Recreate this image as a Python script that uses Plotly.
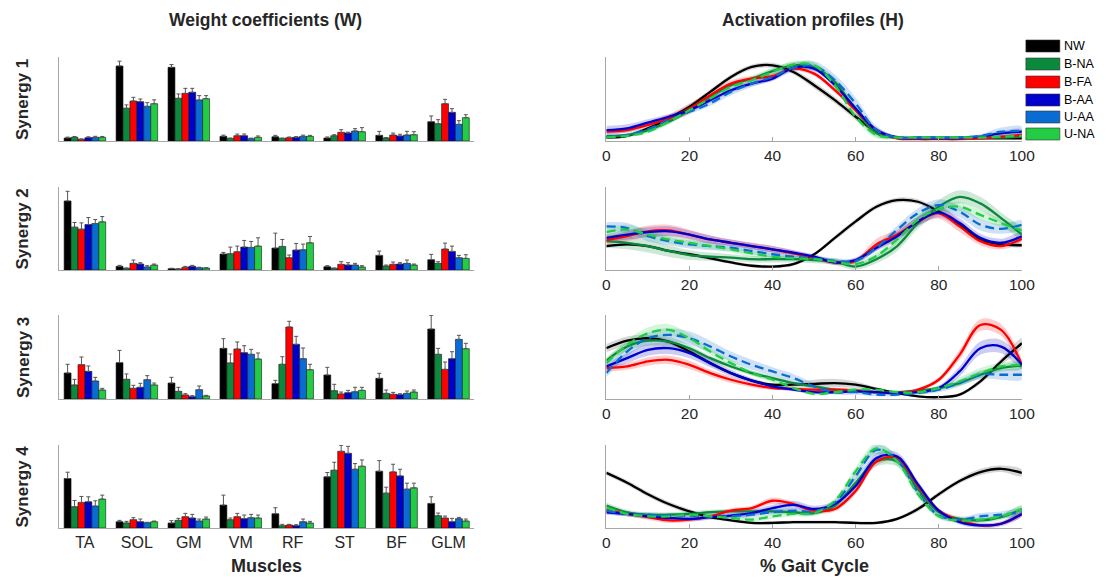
import plotly.graph_objects as go

muscles = ["TA", "SOL", "GM", "VM", "RF", "ST", "BF", "GLM"]
groups = ["NW", "B-NA", "B-FA", "B-AA", "U-AA", "U-NA"]
colors = ["#000000", "#0b8a3e", "#ff0000", "#0000cc", "#0a6bd2", "#22cc44"]
dashes = ["solid", "solid", "solid", "solid", "9px,5px", "9px,5px"]
gait = [0, 5, 10, 15, 20, 25, 30, 35, 40, 45, 50, 55, 60, 65, 70, 75, 80, 85, 90, 95, 100]
xticks = [0, 20, 40, 60, 80, 100]

# ---- weight coefficients (rows = groups, columns = muscles) ----
W1 = [[0.036, 0.893, 0.877, 0.056, 0.050, 0.036, 0.067, 0.230],
      [0.044, 0.390, 0.508, 0.030, 0.030, 0.063, 0.036, 0.206],
      [0.020, 0.476, 0.567, 0.063, 0.040, 0.103, 0.071, 0.444],
      [0.040, 0.468, 0.580, 0.063, 0.044, 0.095, 0.060, 0.341],
      [0.044, 0.413, 0.488, 0.028, 0.056, 0.119, 0.071, 0.198],
      [0.044, 0.444, 0.504, 0.044, 0.056, 0.111, 0.075, 0.278]]
E1 = [[0.010, 0.057, 0.033, 0.014, 0.017, 0.012, 0.048, 0.068],
      [0.010, 0.040, 0.052, 0.006, 0.006, 0.012, 0.006, 0.048],
      [0.005, 0.044, 0.060, 0.020, 0.008, 0.032, 0.024, 0.052],
      [0.010, 0.032, 0.047, 0.020, 0.008, 0.010, 0.020, 0.044],
      [0.012, 0.043, 0.052, 0.006, 0.014, 0.028, 0.044, 0.044],
      [0.010, 0.046, 0.036, 0.016, 0.011, 0.048, 0.036, 0.035]]
W2 = [[0.832, 0.044, 0.016, 0.192, 0.264, 0.040, 0.176, 0.124],
      [0.516, 0.020, 0.012, 0.196, 0.284, 0.020, 0.048, 0.080],
      [0.492, 0.080, 0.032, 0.220, 0.148, 0.068, 0.068, 0.252],
      [0.548, 0.072, 0.044, 0.276, 0.240, 0.060, 0.072, 0.224],
      [0.560, 0.036, 0.028, 0.272, 0.244, 0.060, 0.080, 0.148],
      [0.580, 0.060, 0.024, 0.288, 0.328, 0.036, 0.060, 0.140]]
E2 = [[0.116, 0.012, 0.005, 0.020, 0.180, 0.012, 0.052, 0.064],
      [0.056, 0.005, 0.003, 0.080, 0.084, 0.004, 0.012, 0.020],
      [0.076, 0.040, 0.012, 0.068, 0.032, 0.032, 0.028, 0.072],
      [0.084, 0.016, 0.012, 0.080, 0.080, 0.028, 0.016, 0.064],
      [0.048, 0.016, 0.005, 0.072, 0.068, 0.020, 0.040, 0.028],
      [0.064, 0.012, 0.004, 0.100, 0.076, 0.016, 0.012, 0.044]]
W3 = [[0.310, 0.433, 0.190, 0.603, 0.183, 0.286, 0.246, 0.833],
      [0.167, 0.234, 0.091, 0.429, 0.413, 0.099, 0.067, 0.532],
      [0.409, 0.127, 0.048, 0.595, 0.857, 0.060, 0.056, 0.353],
      [0.329, 0.139, 0.028, 0.552, 0.651, 0.075, 0.052, 0.480],
      [0.214, 0.230, 0.111, 0.532, 0.480, 0.087, 0.067, 0.710],
      [0.107, 0.167, 0.036, 0.476, 0.349, 0.103, 0.083, 0.599]]
E3 = [[0.103, 0.146, 0.068, 0.115, 0.039, 0.091, 0.060, 0.163],
      [0.067, 0.064, 0.048, 0.107, 0.091, 0.076, 0.040, 0.071],
      [0.091, 0.036, 0.015, 0.084, 0.068, 0.023, 0.023, 0.087],
      [0.064, 0.048, 0.012, 0.083, 0.095, 0.028, 0.011, 0.083],
      [0.044, 0.048, 0.044, 0.059, 0.127, 0.052, 0.028, 0.048],
      [0.020, 0.023, 0.008, 0.072, 0.064, 0.036, 0.024, 0.064]]
W4 = [[0.596, 0.076, 0.060, 0.276, 0.172, 0.616, 0.684, 0.296],
      [0.256, 0.060, 0.092, 0.100, 0.028, 0.696, 0.420, 0.148],
      [0.308, 0.100, 0.136, 0.136, 0.036, 0.924, 0.676, 0.120],
      [0.316, 0.076, 0.120, 0.112, 0.028, 0.900, 0.628, 0.076],
      [0.264, 0.064, 0.084, 0.124, 0.076, 0.708, 0.468, 0.112],
      [0.348, 0.076, 0.108, 0.120, 0.060, 0.744, 0.484, 0.084]]
E4 = [[0.076, 0.016, 0.028, 0.120, 0.072, 0.052, 0.128, 0.080],
      [0.076, 0.020, 0.024, 0.020, 0.016, 0.096, 0.072, 0.032],
      [0.072, 0.024, 0.040, 0.040, 0.008, 0.072, 0.092, 0.024],
      [0.060, 0.032, 0.044, 0.044, 0.012, 0.084, 0.080, 0.040],
      [0.064, 0.005, 0.024, 0.040, 0.032, 0.068, 0.072, 0.016],
      [0.048, 0.008, 0.024, 0.036, 0.020, 0.076, 0.056, 0.024]]

# ---- activation profiles (rows = groups, columns = gait %) ----
H1 = [[0.03, 0.05, 0.14, 0.26, 0.40, 0.58, 0.76, 0.88, 0.90, 0.82, 0.66, 0.48, 0.28, 0.10, 0.03, 0.02, 0.02, 0.02, 0.02, 0.02, 0.02],
      [0.05, 0.06, 0.12, 0.22, 0.36, 0.52, 0.66, 0.74, 0.83, 0.90, 0.88, 0.70, 0.36, 0.08, 0.03, 0.03, 0.03, 0.03, 0.03, 0.03, 0.04],
      [0.10, 0.12, 0.18, 0.26, 0.38, 0.54, 0.68, 0.74, 0.77, 0.86, 0.80, 0.60, 0.36, 0.12, 0.02, 0.01, 0.01, 0.01, 0.02, 0.04, 0.06],
      [0.12, 0.14, 0.21, 0.28, 0.36, 0.48, 0.60, 0.68, 0.74, 0.87, 0.86, 0.66, 0.38, 0.12, 0.03, 0.02, 0.02, 0.02, 0.04, 0.08, 0.10],
      [0.04, 0.06, 0.13, 0.24, 0.34, 0.44, 0.58, 0.68, 0.76, 0.87, 0.89, 0.72, 0.44, 0.12, 0.03, 0.03, 0.03, 0.03, 0.05, 0.10, 0.11],
      [0.03, 0.05, 0.10, 0.22, 0.36, 0.50, 0.64, 0.72, 0.82, 0.91, 0.90, 0.66, 0.28, 0.06, 0.03, 0.03, 0.03, 0.03, 0.03, 0.04, 0.05]]
S1 = [[0.02, 0.02, 0.02, 0.03, 0.03, 0.03, 0.03, 0.03, 0.03, 0.03, 0.04, 0.04, 0.04, 0.03, 0.02, 0.01, 0.01, 0.01, 0.01, 0.01, 0.01],
      [0.02, 0.02, 0.03, 0.03, 0.03, 0.03, 0.03, 0.03, 0.04, 0.04, 0.04, 0.05, 0.05, 0.04, 0.02, 0.01, 0.01, 0.01, 0.01, 0.01, 0.01],
      [0.03, 0.03, 0.04, 0.05, 0.06, 0.05, 0.04, 0.03, 0.03, 0.03, 0.03, 0.03, 0.03, 0.03, 0.02, 0.01, 0.01, 0.01, 0.01, 0.02, 0.02],
      [0.05, 0.05, 0.04, 0.03, 0.03, 0.03, 0.03, 0.03, 0.03, 0.03, 0.03, 0.03, 0.03, 0.03, 0.02, 0.01, 0.01, 0.01, 0.02, 0.03, 0.03],
      [0.02, 0.02, 0.03, 0.03, 0.03, 0.03, 0.04, 0.04, 0.04, 0.05, 0.06, 0.07, 0.07, 0.05, 0.02, 0.01, 0.01, 0.01, 0.02, 0.05, 0.05],
      [0.02, 0.02, 0.02, 0.03, 0.03, 0.03, 0.03, 0.03, 0.04, 0.04, 0.04, 0.04, 0.04, 0.04, 0.02, 0.01, 0.01, 0.01, 0.01, 0.02, 0.02]]
H2 = [[0.28, 0.30, 0.28, 0.22, 0.18, 0.13, 0.08, 0.04, 0.03, 0.06, 0.18, 0.38, 0.58, 0.76, 0.84, 0.82, 0.70, 0.54, 0.36, 0.30, 0.29],
      [0.34, 0.32, 0.28, 0.22, 0.17, 0.15, 0.14, 0.12, 0.12, 0.12, 0.11, 0.09, 0.03, 0.12, 0.28, 0.56, 0.76, 0.88, 0.80, 0.62, 0.42],
      [0.35, 0.40, 0.46, 0.47, 0.42, 0.36, 0.32, 0.28, 0.24, 0.19, 0.14, 0.08, 0.10, 0.30, 0.42, 0.58, 0.68, 0.52, 0.34, 0.28, 0.37],
      [0.38, 0.42, 0.45, 0.46, 0.42, 0.36, 0.32, 0.28, 0.24, 0.20, 0.15, 0.08, 0.11, 0.26, 0.40, 0.58, 0.69, 0.56, 0.38, 0.32, 0.40],
      [0.52, 0.50, 0.40, 0.34, 0.30, 0.28, 0.26, 0.22, 0.18, 0.15, 0.13, 0.10, 0.10, 0.26, 0.48, 0.68, 0.78, 0.70, 0.54, 0.49, 0.54],
      [0.45, 0.48, 0.42, 0.36, 0.32, 0.28, 0.24, 0.19, 0.15, 0.13, 0.12, 0.09, 0.06, 0.16, 0.36, 0.60, 0.73, 0.76, 0.66, 0.56, 0.47]]
S2 = [[0.02, 0.02, 0.02, 0.02, 0.02, 0.02, 0.02, 0.02, 0.02, 0.02, 0.02, 0.03, 0.03, 0.03, 0.03, 0.03, 0.03, 0.02, 0.02, 0.02, 0.02],
      [0.08, 0.08, 0.08, 0.07, 0.06, 0.05, 0.04, 0.04, 0.04, 0.04, 0.04, 0.04, 0.04, 0.05, 0.06, 0.07, 0.08, 0.08, 0.08, 0.07, 0.06],
      [0.05, 0.06, 0.07, 0.07, 0.06, 0.05, 0.04, 0.04, 0.04, 0.04, 0.03, 0.03, 0.03, 0.07, 0.06, 0.05, 0.07, 0.07, 0.05, 0.04, 0.04],
      [0.05, 0.06, 0.06, 0.06, 0.05, 0.05, 0.04, 0.04, 0.04, 0.03, 0.03, 0.03, 0.03, 0.04, 0.05, 0.06, 0.06, 0.06, 0.05, 0.05, 0.05],
      [0.05, 0.06, 0.06, 0.05, 0.05, 0.05, 0.04, 0.04, 0.04, 0.03, 0.03, 0.03, 0.03, 0.04, 0.05, 0.06, 0.07, 0.07, 0.07, 0.06, 0.05],
      [0.06, 0.06, 0.06, 0.05, 0.05, 0.04, 0.04, 0.04, 0.04, 0.03, 0.03, 0.03, 0.03, 0.04, 0.05, 0.06, 0.06, 0.06, 0.06, 0.05, 0.05]]
H3 = [[0.60, 0.69, 0.72, 0.68, 0.56, 0.42, 0.30, 0.21, 0.16, 0.16, 0.17, 0.18, 0.16, 0.11, 0.06, 0.02, 0.01, 0.04, 0.20, 0.44, 0.66],
      [0.45, 0.62, 0.69, 0.68, 0.60, 0.48, 0.38, 0.30, 0.24, 0.18, 0.14, 0.10, 0.09, 0.07, 0.07, 0.09, 0.12, 0.18, 0.28, 0.36, 0.39],
      [0.36, 0.38, 0.44, 0.46, 0.40, 0.30, 0.22, 0.16, 0.12, 0.11, 0.10, 0.10, 0.09, 0.07, 0.06, 0.10, 0.22, 0.52, 0.88, 0.82, 0.40],
      [0.38, 0.48, 0.58, 0.60, 0.54, 0.42, 0.30, 0.21, 0.14, 0.10, 0.07, 0.07, 0.08, 0.07, 0.06, 0.07, 0.12, 0.32, 0.60, 0.62, 0.40],
      [0.30, 0.56, 0.72, 0.76, 0.72, 0.62, 0.50, 0.40, 0.32, 0.24, 0.14, 0.07, 0.07, 0.04, 0.04, 0.06, 0.10, 0.18, 0.28, 0.28, 0.28],
      [0.42, 0.64, 0.78, 0.82, 0.72, 0.56, 0.42, 0.30, 0.22, 0.12, 0.05, 0.07, 0.10, 0.10, 0.07, 0.07, 0.12, 0.20, 0.30, 0.38, 0.40]]
S3 = [[0.05, 0.05, 0.04, 0.03, 0.03, 0.03, 0.02, 0.02, 0.02, 0.03, 0.05, 0.05, 0.04, 0.02, 0.01, 0.01, 0.01, 0.02, 0.03, 0.04, 0.06],
      [0.04, 0.05, 0.06, 0.06, 0.04, 0.03, 0.03, 0.03, 0.03, 0.02, 0.02, 0.02, 0.02, 0.02, 0.02, 0.02, 0.02, 0.03, 0.04, 0.04, 0.04],
      [0.04, 0.04, 0.05, 0.05, 0.05, 0.04, 0.04, 0.03, 0.02, 0.02, 0.02, 0.02, 0.02, 0.02, 0.02, 0.02, 0.03, 0.06, 0.07, 0.07, 0.05],
      [0.05, 0.06, 0.07, 0.07, 0.06, 0.05, 0.04, 0.03, 0.03, 0.02, 0.02, 0.02, 0.02, 0.02, 0.02, 0.02, 0.03, 0.06, 0.08, 0.08, 0.05],
      [0.05, 0.06, 0.07, 0.08, 0.08, 0.07, 0.06, 0.06, 0.05, 0.05, 0.04, 0.03, 0.03, 0.02, 0.02, 0.02, 0.03, 0.04, 0.05, 0.06, 0.06],
      [0.05, 0.06, 0.07, 0.07, 0.05, 0.04, 0.04, 0.03, 0.03, 0.02, 0.02, 0.02, 0.02, 0.02, 0.02, 0.02, 0.03, 0.05, 0.06, 0.05, 0.04]]
H4 = [[0.66, 0.54, 0.40, 0.28, 0.19, 0.12, 0.08, 0.05, 0.05, 0.06, 0.06, 0.06, 0.05, 0.05, 0.10, 0.22, 0.40, 0.56, 0.67, 0.71, 0.66],
      [0.26, 0.18, 0.15, 0.15, 0.16, 0.18, 0.19, 0.19, 0.19, 0.18, 0.17, 0.26, 0.54, 0.80, 0.80, 0.46, 0.18, 0.10, 0.08, 0.12, 0.22],
      [0.21, 0.16, 0.12, 0.08, 0.09, 0.13, 0.20, 0.23, 0.32, 0.28, 0.20, 0.22, 0.44, 0.80, 0.84, 0.50, 0.20, 0.08, 0.02, 0.04, 0.16],
      [0.18, 0.16, 0.13, 0.11, 0.10, 0.12, 0.14, 0.17, 0.23, 0.27, 0.22, 0.28, 0.50, 0.84, 0.86, 0.52, 0.20, 0.06, 0.02, 0.04, 0.16],
      [0.20, 0.16, 0.15, 0.14, 0.14, 0.13, 0.13, 0.15, 0.18, 0.20, 0.19, 0.30, 0.62, 0.94, 0.82, 0.42, 0.14, 0.09, 0.13, 0.15, 0.18],
      [0.24, 0.16, 0.13, 0.13, 0.15, 0.13, 0.11, 0.09, 0.13, 0.16, 0.17, 0.32, 0.68, 0.96, 0.80, 0.40, 0.13, 0.08, 0.09, 0.13, 0.22]]
S4 = [[0.03, 0.03, 0.03, 0.03, 0.03, 0.02, 0.02, 0.02, 0.02, 0.02, 0.02, 0.02, 0.02, 0.02, 0.02, 0.03, 0.03, 0.03, 0.04, 0.04, 0.04],
      [0.04, 0.03, 0.03, 0.03, 0.03, 0.03, 0.03, 0.03, 0.03, 0.03, 0.03, 0.03, 0.06, 0.06, 0.06, 0.06, 0.04, 0.03, 0.03, 0.03, 0.04],
      [0.03, 0.03, 0.03, 0.03, 0.03, 0.03, 0.03, 0.03, 0.04, 0.03, 0.03, 0.03, 0.04, 0.05, 0.04, 0.04, 0.03, 0.03, 0.02, 0.02, 0.03],
      [0.03, 0.03, 0.03, 0.03, 0.03, 0.03, 0.03, 0.04, 0.04, 0.05, 0.04, 0.04, 0.05, 0.06, 0.05, 0.04, 0.03, 0.03, 0.03, 0.03, 0.03],
      [0.04, 0.03, 0.03, 0.03, 0.03, 0.03, 0.03, 0.03, 0.03, 0.03, 0.03, 0.03, 0.05, 0.06, 0.05, 0.04, 0.03, 0.03, 0.04, 0.04, 0.04],
      [0.04, 0.03, 0.03, 0.03, 0.03, 0.03, 0.03, 0.03, 0.03, 0.03, 0.03, 0.03, 0.05, 0.07, 0.06, 0.04, 0.03, 0.03, 0.03, 0.03, 0.04]]

W_all = [W1, W2, W3, W4]
E_all = [E1, E2, E3, E4]
H_all = [H1, H2, H3, H4]
S_all = [S1, S2, S3, S4]
synergy_labels = ["Synergy 1", "Synergy 2", "Synergy 3", "Synergy 4"]

# ---- layout geometry (target pixels in the photographed page) ----
FW, FH = 1106, 579
# The photographed page comes out slightly compressed horizontally
# (x_photo ~= 0.9857 * x_page + 3); positions below are given in photo pixels.
XS, XO = 0.9857, 3.0
FONT = "Liberation Sans, Arial, sans-serif"
TXT = "#262626"
AXC = "#a6a6a6"
panel_top = [57, 187, 315, 445]
panel_bot = [141, 270, 399, 528]
bar_x = (58, 474)
line_x = (606, 1022)


def px(x):
    return ((x - XO) / XS) / FW


def py(y):
    return 1 - y / FH


def rgba(hexc, a):
    h = hexc.lstrip("#")
    return "rgba(%d,%d,%d,%.2f)" % (int(h[0:2], 16), int(h[2:4], 16), int(h[4:6], 16), a)


fig = go.Figure()
layout = dict(
    width=FW, height=FH, autosize=False, margin=dict(l=0, r=0, t=0, b=0, pad=0),
    paper_bgcolor="white", plot_bgcolor="white",
    barmode="group", bargap=0.2, bargroupgap=0.0,
    showlegend=False, font=dict(family=FONT, color=TXT),
)

annotations = []
shapes = []

for s in range(4):
    nb = 2 * s + 1
    nl = 2 * s + 2
    ydom = [py(panel_bot[s]), py(panel_top[s])]
    layout["xaxis%d" % nb] = dict(
        domain=[px(bar_x[0]), px(bar_x[1])], anchor="y%d" % nb,
        type="category", range=[-0.5, 7.5], showline=True, linecolor=AXC, linewidth=1,
        ticks="", showgrid=False, zeroline=False, showticklabels=(s == 3),
        tickfont=dict(size=16, color=TXT, family=FONT),
    )
    layout["yaxis%d" % nb] = dict(
        domain=ydom, anchor="x%d" % nb, range=[0, 1], showline=True, linecolor=AXC,
        linewidth=1, ticks="", showgrid=False, zeroline=False, showticklabels=False,
    )
    layout["xaxis%d" % nl] = dict(
        domain=[px(line_x[0]), px(line_x[1])], anchor="y%d" % nl,
        range=[0, 100], showline=True, linecolor=AXC, linewidth=1,
        ticks="inside", ticklen=4, tickcolor=AXC, tickvals=xticks,
        showgrid=False, zeroline=False,
        tickfont=dict(size=15.5, color=TXT, family=FONT),
    )
    layout["yaxis%d" % nl] = dict(
        domain=ydom, anchor="x%d" % nl, range=[-0.012, 1], showline=True, linecolor=AXC,
        linewidth=1, ticks="", showgrid=False, zeroline=False, showticklabels=False,
    )

    for j, g in enumerate(groups):
        fig.add_trace(go.Bar(
            x=muscles, y=W_all[s][j], name=g, offsetgroup=str(j),
            xaxis="x%d" % nb, yaxis="y%d" % nb,
            marker=dict(color=colors[j], line=dict(color="#1a1a1a", width=0.6)),
            error_y=dict(type="data", symmetric=False, array=E_all[s][j],
                         arrayminus=[0] * len(muscles), color="#555555",
                         thickness=1, width=2),
            showlegend=False,
        ))

    for j, g in enumerate(groups):
        up = [m + d for m, d in zip(H_all[s][j], S_all[s][j])]
        lo = [m - d for m, d in zip(H_all[s][j], S_all[s][j])]
        alpha = 0.16 if j == 0 else 0.2
        fig.add_trace(go.Scatter(
            x=gait + gait[::-1], y=up + lo[::-1], fill="toself",
            fillcolor=rgba(colors[j], alpha), line=dict(width=0, shape="spline"),
            mode="lines", hoverinfo="skip", xaxis="x%d" % nl, yaxis="y%d" % nl,
            showlegend=False,
        ))
    for j, g in enumerate(groups):
        fig.add_trace(go.Scatter(
            x=gait, y=H_all[s][j], mode="lines", name=g,
            line=dict(color=colors[j], width=2.3, dash=dashes[j], shape="spline"),
            xaxis="x%d" % nl, yaxis="y%d" % nl, showlegend=False,
        ))

    annotations.append(dict(
        text="<b>%s</b>" % synergy_labels[s], x=px(22), y=py((panel_top[s] + panel_bot[s]) / 2),
        xref="paper", yref="paper", textangle=-90, showarrow=False,
        font=dict(size=17, color=TXT, family=FONT), xanchor="center", yanchor="middle",
    ))

annotations += [
    dict(text="<b>Weight coefficients (W)</b>", x=px(265), y=py(20), xref="paper", yref="paper",
         showarrow=False, font=dict(size=17.5, color=TXT, family=FONT), xanchor="center", yanchor="middle"),
    dict(text="<b>Activation profiles (H)</b>", x=px(813), y=py(20), xref="paper", yref="paper",
         showarrow=False, font=dict(size=17.5, color=TXT, family=FONT), xanchor="center", yanchor="middle"),
    dict(text="<b>Muscles</b>", x=px(266), y=py(566), xref="paper", yref="paper",
         showarrow=False, font=dict(size=18, color=TXT, family=FONT), xanchor="center", yanchor="middle"),
    dict(text="<b>% Gait Cycle</b>", x=px(814), y=py(566), xref="paper", yref="paper",
         showarrow=False, font=dict(size=18, color=TXT, family=FONT), xanchor="center", yanchor="middle"),
]

leg_rows = [40, 58, 76, 94, 111, 128]
for j, g in enumerate(groups):
    y0 = leg_rows[j]
    shapes.append(dict(type="rect", xref="paper", yref="paper",
                       x0=px(1026), x1=px(1060), y0=py(y0 + 12), y1=py(y0),
                       fillcolor=colors[j], line=dict(color="#333333", width=0.6)))
    annotations.append(dict(text=g, x=px(1062), y=py(y0 + 6), xref="paper", yref="paper",
                            showarrow=False, xanchor="left", yanchor="middle",
                            font=dict(size=12.5, color="#000000", family=FONT)))

layout["annotations"] = annotations
layout["shapes"] = shapes
fig.update_layout(**layout)
fig.write_html("out.html")
